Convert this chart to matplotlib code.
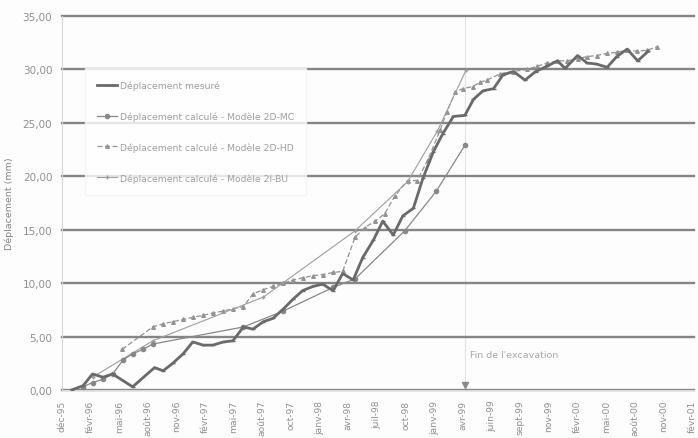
import matplotlib
matplotlib.use("Agg")
import matplotlib.pyplot as plt

# Category axis labels (one label every 3 readings)
tick_labels = ["déc-95", "févr-96", "mai-96", "août-96", "nov-96", "févr-97",
               "mai-97", "août-97", "oct-97", "janv-98", "avr-98", "juil-98",
               "oct-98", "janv-99", "avr-99", "juin-99", "sept-99", "nov-99",
               "févr-00", "mai-00", "août-00", "nov-00", "févr-01"]

# Measured displacement (mm) vs reading index
mes_x = [1.0, 2.2, 3.2, 4.3, 5.3, 7.4, 9.7, 10.6, 11.6, 12.7, 13.7, 14.8, 15.8,
         16.9, 17.9, 19.0, 20.0, 21.1, 22.1, 23.2, 24.2, 25.2, 26.3, 27.3, 28.4,
         29.4, 30.5, 31.5, 32.6, 33.6, 34.7, 35.7, 36.8, 37.8, 38.9, 39.9, 41.0,
         42.2, 43.1, 44.1, 45.2, 46.2, 47.3, 48.5, 49.6, 50.8, 51.9, 52.7, 54.0,
         55.0, 56.0, 57.1, 58.1, 59.2, 60.3, 61.4]
mes_y = [0.0, 0.4, 1.5, 1.2, 1.5, 0.3, 2.1, 1.8, 2.5, 3.4, 4.5, 4.2, 4.2,
         4.5, 4.6, 5.9, 5.7, 6.4, 6.7, 7.6, 8.5, 9.3, 9.7, 9.9, 9.3,
         10.9, 10.3, 12.4, 14.0, 15.8, 14.5, 16.3, 17.0, 19.8, 22.3, 24.0, 25.6,
         25.7, 27.2, 28.0, 28.2, 29.5, 29.8, 29.0, 29.8, 30.3, 30.8, 30.1, 31.3,
         30.6, 30.5, 30.2, 31.2, 31.9, 30.8, 31.7]

# Computed displacement - model 2D-MC
mc_x = [2.2, 3.2, 4.3, 5.3, 6.4, 7.4, 8.5, 9.5, 19.0, 23.2, 28.4, 30.7, 35.9, 39.2, 42.2]
mc_y = [0.3, 0.7, 1.0, 1.5, 2.8, 3.4, 3.8, 4.3, 5.9, 7.4, 9.6, 10.4, 14.9, 18.6, 22.9]

# Computed displacement - model 2D-HD
hd_x = [6.3, 9.5, 10.6, 11.6, 12.7, 13.7, 14.8, 15.8, 16.9, 17.9, 19.0, 20.0,
        21.1, 22.1, 23.2, 24.2, 25.2, 26.3, 27.3, 28.4, 29.4, 30.7, 31.7, 32.8,
        33.8, 34.9, 36.2, 37.2, 38.3, 39.6, 40.3, 41.2, 42.0, 43.0, 43.8, 44.5,
        45.9, 47.2, 48.7, 49.8, 50.8, 51.9, 52.9, 54.0, 55.0, 56.0, 57.1, 58.1,
        59.2, 60.2, 61.3, 62.3]
hd_y = [3.8, 5.9, 6.2, 6.4, 6.6, 6.8, 7.0, 7.2, 7.4, 7.6, 7.8, 9.0,
        9.4, 9.7, 10.0, 10.3, 10.5, 10.7, 10.8, 11.0, 11.1, 14.3, 15.2, 15.8,
        16.5, 18.2, 19.6, 19.6, 21.5, 24.3, 26.0, 27.9, 28.2, 28.4, 28.8, 29.0,
        29.6, 29.8, 30.0, 30.3, 30.6, 30.8, 30.8, 31.0, 31.2, 31.3, 31.5, 31.6,
        31.8, 31.7, 31.8, 32.1]

# Computed displacement - model 2I-BU
bu_x = [3.2, 9.5, 21.1, 30.7, 36.2, 39.3, 42.3]
bu_y = [1.2, 4.6, 8.7, 14.9, 19.5, 24.2, 29.9]

# End of excavation
fin_x = 42.2

fig = plt.figure(figsize=(6.98, 4.39), dpi=100)
fig.patch.set_facecolor("#fdfdfd")
ax = fig.add_axes([0.0888, 0.1093, 0.9055, 0.852])
ax.set_facecolor("#fdfdfd")

ax.set_xlim(0, 66.2)
ax.set_ylim(0, 35)

# horizontal grid
for v in range(0, 36, 5):
    ax.axhline(v, color="#858585", lw=1.7, zorder=1, clip_on=False)

ax.plot(mes_x, mes_y, color="#6a6a6a", lw=2.0, marker="_", ms=3,
        zorder=5, label="Déplacement mesuré")
ax.plot(mc_x, mc_y, color="#888888", lw=0.9, marker="o", ms=3,
        zorder=4, label="Déplacement calculé - Modèle 2D-MC")
ax.plot(hd_x, hd_y, color="#939393", lw=0.9, ls=(0, (4, 2)), marker="^", ms=2.6,
        zorder=3, label="Déplacement calculé - Modèle 2D-HD")
ax.plot(bu_x, bu_y, color="#9e9e9e", lw=0.8, marker="+", ms=3,
        zorder=3, label="Déplacement calculé - Modèle 2I-BU")

ax.axvline(fin_x, color="#e2e2e2", lw=0.8, zorder=0)
ax.plot([fin_x], [0.45], marker="v", color="#8a8a8a", ms=4, zorder=6, clip_on=False)
ax.text(fin_x + 0.5, 3.1, "Fin de l'excavation", fontsize=6.8, color="#a8a8a8")

ax.set_xticks(range(0, 67, 3))
ax.set_xticklabels(tick_labels, rotation=90, fontsize=6.6, color="#909090")
ax.set_yticks(range(0, 36, 5))
ax.set_yticklabels([f"{v},00" for v in range(0, 36, 5)], fontsize=7.5, color="#909090")
ax.tick_params(axis="x", length=0, pad=7)
ax.tick_params(axis="y", length=0, pad=7)

for side in ["top", "right"]:
    ax.spines[side].set_visible(False)
ax.spines["left"].set_color("#d8d8d8")
ax.spines["bottom"].set_color("#d8d8d8")
ax.spines["left"].set_linewidth(0.8)
ax.spines["bottom"].set_linewidth(0.8)

ax.set_ylabel("Déplacement (mm)", fontsize=6.8, color="#858585", labelpad=6)

leg = ax.legend(loc="upper left", bbox_to_anchor=(0.036, 0.86), fontsize=6.7,
                frameon=True, facecolor="white", edgecolor="#f4f4f4",
                labelspacing=2.3, handlelength=2.2, handletextpad=0.3,
                borderpad=1.3, borderaxespad=0, fancybox=False)
for t in leg.get_texts():
    t.set_color("#a0a0a0")
leg.set_zorder(7)

fig.savefig("out.png", dpi=100, facecolor=fig.get_facecolor())
